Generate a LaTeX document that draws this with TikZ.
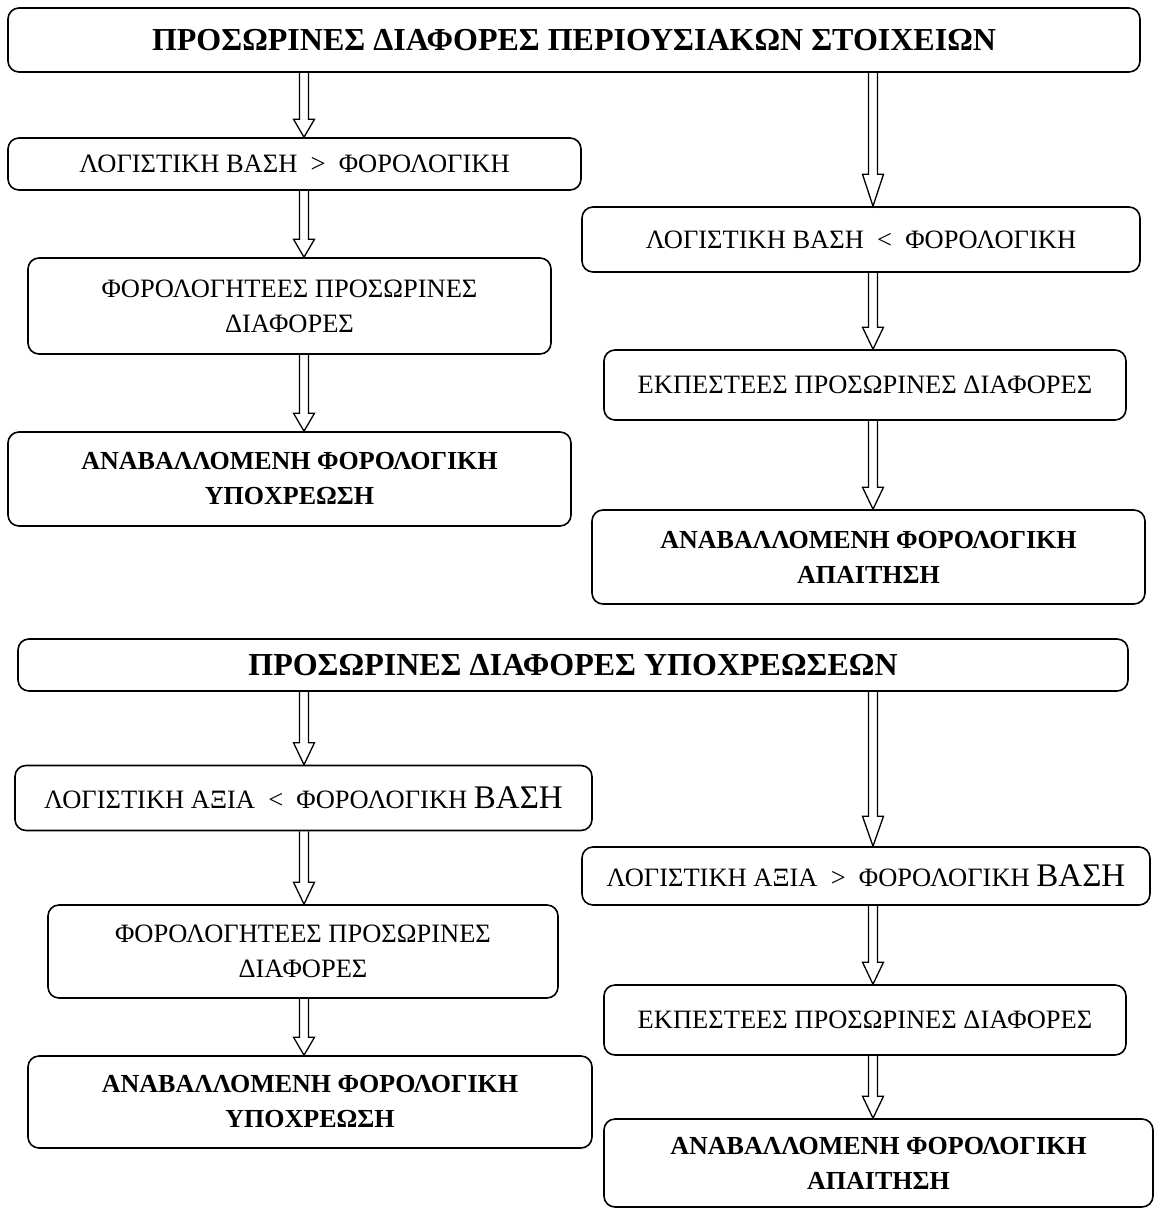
\documentclass[tikz,border=0pt]{standalone}
\usepackage{fontspec}
\setmainfont{Liberation Serif}
\usetikzlibrary{calc}
\begin{document}
\begin{tikzpicture}[x=1pt,y=-1pt,
  box/.style={draw, line width=1.6pt, rounded corners=11pt, inner sep=0pt, align=center,
    font=\fontsize{26.5}{35}\selectfont},
  boldbox/.style={box, font=\fontsize{26}{35}\selectfont\bfseries},
  titlebox/.style={box, font=\fontsize{32}{36}\selectfont\bfseries},
  hl/.store in=\hl, hl=18pt,
  blockarrow/.style={line width=1.3pt, line join=miter, to path={
    let \p1=(\tikztostart), \p2=(\tikztotarget) in
    ({\x1-4.5pt},\y1) -- ({\x1-4.5pt},{\y2+\hl}) -- ({\x1-10.5pt},{\y2+\hl}) -- (\x1,\y2)
    -- ({\x1+10.5pt},{\y2+\hl}) -- ({\x1+4.5pt},{\y2+\hl}) -- ({\x1+4.5pt},\y1)}}
]
\useasboundingbox (0,0) rectangle (1155,1211);
\newcommand{\bigvasi}{{\fontsize{33}{35}\selectfont ΒΑΣΗ}}

% upper section
\node[titlebox, minimum width=1132, minimum height=64] (T1) at (574,40) {ΠΡΟΣΩΡΙΝΕΣ ΔΙΑΦΟΡΕΣ ΠΕΡΙΟΥΣΙΑΚΩΝ ΣΤΟΙΧΕΙΩΝ};
\node[box, minimum width=573, minimum height=52] (A) at (294.5,164) {ΛΟΓΙΣΤΙΚΗ ΒΑΣΗ \ > \ ΦΟΡΟΛΟΓΙΚΗ};
\node[box, minimum width=523, minimum height=96] (B) at (289.5,306) {ΦΟΡΟΛΟΓΗΤΕΕΣ ΠΡΟΣΩΡΙΝΕΣ\\ΔΙΑΦΟΡΕΣ};
\node[boldbox, minimum width=563, minimum height=94] (C) at (289.5,479) {ΑΝΑΒΑΛΛΟΜΕΝΗ ΦΟΡΟΛΟΓΙΚΗ\\ΥΠΟΧΡΕΩΣΗ};
\node[box, minimum width=558, minimum height=65] (D) at (861,239.5) {ΛΟΓΙΣΤΙΚΗ ΒΑΣΗ \ < \ ΦΟΡΟΛΟΓΙΚΗ};
\node[box, minimum width=522, minimum height=70] (E) at (865,385) {ΕΚΠΕΣΤΕΕΣ ΠΡΟΣΩΡΙΝΕΣ ΔΙΑΦΟΡΕΣ};
\node[boldbox, minimum width=553, minimum height=94] (F) at (868.5,557) {ΑΝΑΒΑΛΛΟΜΕΝΗ ΦΟΡΟΛΟΓΙΚΗ\\ΑΠΑΙΤΗΣΗ};

% lower section
\node[titlebox, minimum width=1110, minimum height=52] (T2) at (573,665) {ΠΡΟΣΩΡΙΝΕΣ ΔΙΑΦΟΡΕΣ ΥΠΟΧΡΕΩΣΕΩΝ};
\node[box, minimum width=577, minimum height=65] (G) at (303.5,798) {ΛΟΓΙΣΤΙΚΗ ΑΞΙΑ \ < \ ΦΟΡΟΛΟΓΙΚΗ \bigvasi};
\node[box, minimum width=510, minimum height=93] (H) at (303,951.5) {ΦΟΡΟΛΟΓΗΤΕΕΣ ΠΡΟΣΩΡΙΝΕΣ\\ΔΙΑΦΟΡΕΣ};
\node[boldbox, minimum width=564, minimum height=92] (I) at (310,1102) {ΑΝΑΒΑΛΛΟΜΕΝΗ ΦΟΡΟΛΟΓΙΚΗ\\ΥΠΟΧΡΕΩΣΗ};
\node[box, minimum width=568, minimum height=58] (J) at (866,876) {ΛΟΓΙΣΤΙΚΗ ΑΞΙΑ \ > \ ΦΟΡΟΛΟΓΙΚΗ \bigvasi};
\node[box, minimum width=522, minimum height=70] (K) at (865,1020) {ΕΚΠΕΣΤΕΕΣ ΠΡΟΣΩΡΙΝΕΣ ΔΙΑΦΟΡΕΣ};
\node[boldbox, minimum width=549, minimum height=88] (L) at (878.5,1163) {ΑΝΑΒΑΛΛΟΜΕΝΗ ΦΟΡΟΛΟΓΙΚΗ\\ΑΠΑΙΤΗΣΗ};

% arrow columns
\coordinate (lx) at (304,0);
\coordinate (rx) at (873,0);

\draw[blockarrow] (T1.south -| lx) to (A.north -| lx);
\draw[blockarrow] (A.south -| lx) to (B.north -| lx);
\draw[blockarrow] (B.south -| lx) to (C.north -| lx);
\draw[blockarrow, hl=32pt] (T1.south -| rx) to (D.north -| rx);
\draw[blockarrow, hl=22pt] (D.south -| rx) to (E.north -| rx);
\draw[blockarrow, hl=22pt] (E.south -| rx) to (F.north -| rx);

\draw[blockarrow, hl=22pt] (T2.south -| lx) to (G.north -| lx);
\draw[blockarrow, hl=22pt] (G.south -| lx) to (H.north -| lx);
\draw[blockarrow] (H.south -| lx) to (I.north -| lx);
\draw[blockarrow, hl=30pt] (T2.south -| rx) to (J.north -| rx);
\draw[blockarrow, hl=22pt] (J.south -| rx) to (K.north -| rx);
\draw[blockarrow, hl=22pt] (K.south -| rx) to (L.north -| rx);
\end{tikzpicture}
\end{document}
